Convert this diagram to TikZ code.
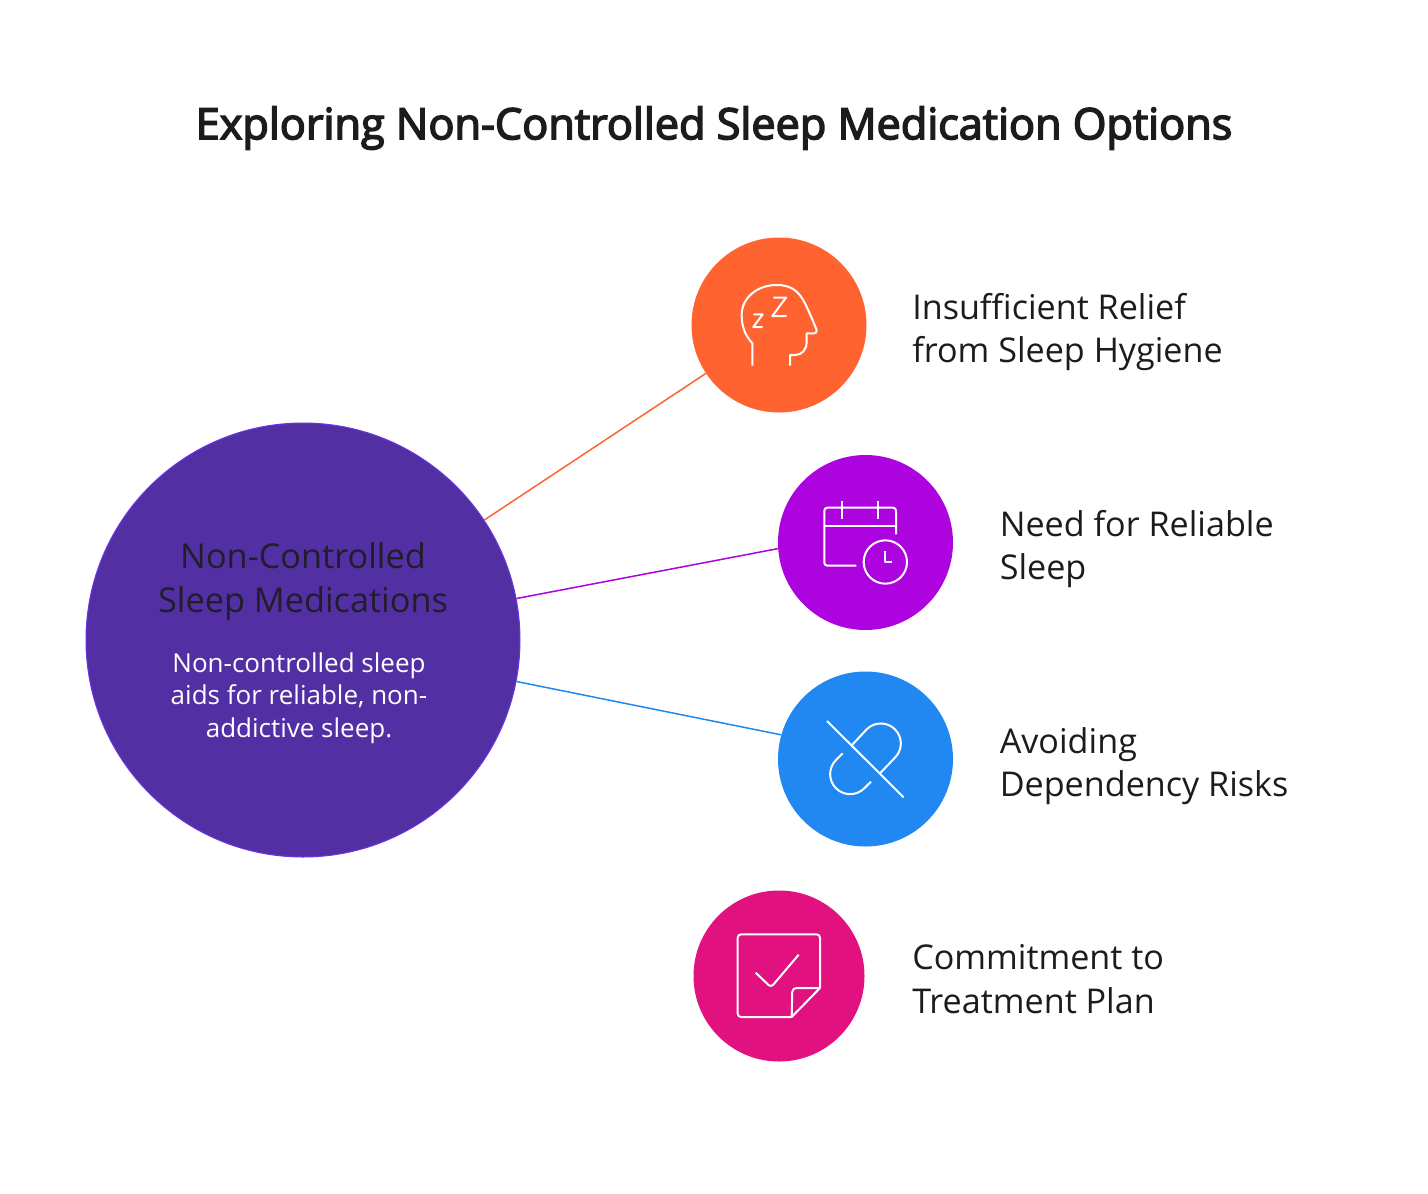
\documentclass[tikz,border=0pt]{standalone}
\usepackage{fontspec}
\setmainfont{Open Sans}
\newfontfamily\titlefont[FakeBold=3.5]{Open Sans}
\definecolor{ink}{HTML}{1C1C1C}
\definecolor{maincol}{HTML}{5230A4}
\definecolor{mainedge}{HTML}{6B34E8}
\definecolor{orangecol}{HTML}{FF6330}
\definecolor{purplecol}{HTML}{AD03DE}
\definecolor{bluecol}{HTML}{2088F0}
\definecolor{pinkcol}{HTML}{E21180}
\tikzset{
  disc/.style={circle,inner sep=0pt,minimum size=175*0.75pt},
  label text/.style={anchor=west,align=left,text=ink,font=\fontsize{25.6pt}{32.6pt}\selectfont,inner sep=0pt},
  link/.style={line width=1.5*0.75pt},
  icon/.style={draw=white,line width=1.5pt,line join=round,rounded corners=0pt},
}
\begin{document}
\begin{tikzpicture}[x=0.75pt,y=-0.75pt]
\useasboundingbox (0,0) rectangle (1428,1193);
\fill[white] (0,0) rectangle (1428,1193);
\node[anchor=center,text=ink,inner sep=0pt,font=\titlefont\fontsize{32.4pt}{40pt}\selectfont] (title) at (714,128) {Exploring Non-Controlled Sleep Medication Options};

\node[circle,inner sep=0pt,minimum size=434*0.75pt,fill=maincol,draw=mainedge,line width=0.75pt] (main) at (303,640) {};
\node[disc,fill=orangecol] (c1) at (779,325) {};
\node[disc,fill=purplecol] (c2) at (865.5,542.5) {};
\node[disc,fill=bluecol] (c3) at (865.5,759) {};
\node[disc,fill=pinkcol,minimum size=171*0.75pt] (c4) at (779,976) {};

\draw[link,orangecol] (main) -- (c1);
\draw[link,purplecol] (main.11.15) -- (c2.184.5);
\draw[link,bluecol] (main.-11.15) -- (c3.164);

\node[anchor=center,align=center,text=ink!90!maincol,inner sep=0pt,font=\fontsize{25.7pt}{32.6pt}\selectfont] (mainhead) at (303,581.5) {Non-Controlled\\Sleep Medications};
\node[anchor=center,align=center,text=white,inner sep=0pt,font=\fontsize{19.5pt}{24.4pt}\selectfont] (mainbody) at (299,698) {Non-controlled sleep\\aids for reliable, non-\\addictive sleep.};

\node[label text] (l1) at (912,332) {Insufficient Relief\\from Sleep Hygiene};
\node[label text] (l2) at (999.5,549) {Need for Reliable\\Sleep};
\node[label text] (l3) at (999.5,766) {Avoiding\\Dependency Risks};
\node[label text] (l4) at (912,979) {Commitment to\\Treatment Plan};

\begin{scope}[shift={(690,235)},x=0.25pt,y=-0.25pt]
\draw[icon] (187,392) -- (187,325) .. controls (165,300) and (155,275) .. (155,240) .. controls (155,190) and (200,150) .. (260,150) .. controls (300,150) and (325,165) .. (345,205) .. controls (355,225) and (370,260) .. (380,285) .. controls (381,291) and (377,295) .. (372,295) -- (350,295) -- (350,320) .. controls (350,345) and (335,360) .. (315,360) -- (300,360) -- (300,392);
\draw[icon] (250,188) -- (288,188) -- (247,243) -- (290,243);
\draw[icon] (190,238) -- (218,238) -- (190,276) -- (218,276);
\end{scope}

\begin{scope}[shift={(776,452)},x=0.25pt,y=-0.25pt]
\draw[icon,rounded corners=2.2pt] (360,247) -- (360,167) -- (145,167) -- (145,341) -- (241,341);
\draw[icon] (145,221) -- (360,221);
\draw[icon] (198,147) -- (198,200);
\draw[icon] (306,147) -- (306,200);
\draw[icon] (328,330) circle[radius=65];
\draw[icon] (328,298) -- (328,330) -- (348,330);
\end{scope}

\begin{scope}[shift={(776,670)},x=0.25pt,y=-0.25pt]
\draw[icon] (153,153) -- (383,382);
\draw[icon] (228,225) -- (272,178) arc[start angle=225,end angle=405,radius=60] -- (312,310);
\draw[icon] (200,250) -- (180,270) arc[start angle=225,end angle=45,radius=60] -- (285,335);
\end{scope}

\begin{scope}[shift={(690,888)},x=0.25pt,y=-0.25pt]
\draw[icon,rounded corners=2.5pt] (305,387) -- (143,387) -- (143,139) -- (390,139) -- (390,300);
\draw[icon] (390,300) -- (305,387);
\draw[icon,rounded corners=3pt] (390,300) -- (307,300) -- (305,387);
\draw[icon,rounded corners=2.5pt] (197,254) -- (243,298) -- (326,200);
\end{scope}
\end{tikzpicture}
\end{document}
